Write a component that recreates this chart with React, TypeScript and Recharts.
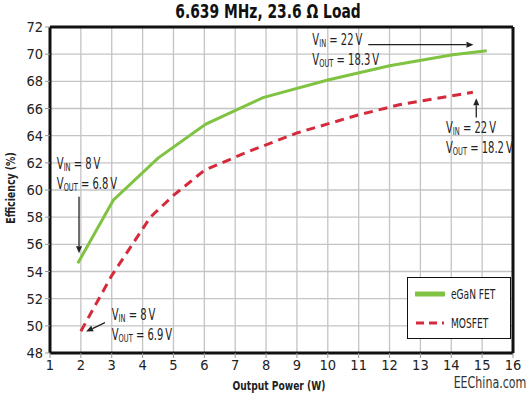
import {
  LineChart,
  Line,
  CartesianGrid,
  XAxis,
  YAxis,
  ReferenceLine,
  ReferenceDot,
  Legend,
} from "recharts";

// output power (W) and efficiency (%)
const gaNPower = [1.9, 3.05, 4.5, 6.05, 7.9, 10, 12, 14.05, 15.15];
const gaNEff = [54.6, 59.25, 62.35, 64.85, 66.8, 68.1, 69.15, 69.95, 70.25];
const mosPower = [2.0, 3.0, 4.25, 5.0, 6.0, 7.4, 9.0, 10.95, 12.35, 14.7];
const mosEff = [49.6, 53.7, 58.0, 59.6, 61.45, 62.8, 64.2, 65.5, 66.3, 67.2];

const xTicks = [1, 2, 3, 4, 5, 6, 7, 8, 9, 10, 11, 12, 13, 14, 15, 16];
const yTicks = [48, 50, 52, 54, 56, 58, 60, 62, 64, 66, 68, 70, 72];

const gaNData = gaNPower.map((p, i) => ({ p, eff: gaNEff[i] }));
const mosData = mosPower.map((p, i) => ({ p, eff: mosEff[i] }));

const FONT = "'DejaVu Sans', sans-serif";
const STRETCH = "condensed";
const GREEN = "#80c242";
const RED = "#d42a3c";

const series = [
  { name: "eGaN FET", color: GREEN, dash: undefined, width: 5 },
  { name: "MOSFET", color: RED, dash: "8 5", width: 3 },
];

// annotation anchors (data coords) and text
const notes = [
  { x: 1.22, y: 61.94, vin: "8", vout: "6.8" },
  { x: 3.0, y: 50.82, vin: "8", vout: "6.9" },
  { x: 9.5, y: 71.02, vin: "22", vout: "18.3" },
  { x: 13.83, y: 64.57, vin: "22", vout: "18.2" },
];

const arrows = [
  [{ x: 1.94, y: 59.5 }, { x: 1.94, y: 55.35 }],
  [{ x: 2.78, y: 50.23 }, { x: 2.17, y: 49.58 }],
  [{ x: 11.31, y: 70.7 }, { x: 14.72, y: 70.7 }],
  [{ x: 14.81, y: 65.33 }, { x: 14.81, y: 66.75 }],
];

const Arrow = (props: any) => {
  const { x1, y1, x2, y2 } = props;
  const a = Math.atan2(y2 - y1, x2 - x1);
  const len = 7;
  const hw = 3;
  const bx = x2 - len * Math.cos(a);
  const by = y2 - len * Math.sin(a);
  const px = -Math.sin(a) * hw;
  const py = Math.cos(a) * hw;
  return (
    <g>
      <line x1={x1} y1={y1} x2={bx} y2={by} stroke="#222" strokeWidth={1.3} />
      <polygon points={`${x2},${y2} ${bx + px},${by + py} ${bx - px},${by - py}`} fill="#222" />
    </g>
  );
};

const Note = ({ cx, cy, vin, vout }: any) => (
  <g
    fontFamily={FONT}
    fill="#222"
    style={{ fontStretch: STRETCH }}
    transform={`translate(${cx} ${cy}) scale(0.74 1)`}
  >
    <text x={0} y={5} fontSize={15}>
      V<tspan fontSize={10} dy={2}>IN</tspan>
      <tspan dy={-2}> = {vin}{"\u2009"}V</tspan>
    </text>
    <text x={0} y={25} fontSize={15}>
      V<tspan fontSize={10} dy={2}>OUT</tspan>
      <tspan dy={-2}> = {vout}{"\u2009"}V</tspan>
    </text>
  </g>
);

const LegendBox = () => (
  <div
    style={{
      width: 104,
      height: 62,
      boxSizing: "border-box",
      border: "1.5px solid #111",
      background: "#fff",
      position: "relative",
      fontFamily: FONT,
      fontStretch: STRETCH,
      fontSize: 14,
      color: "#222",
      whiteSpace: "nowrap",
    }}
  >
    {series.map((s, i) => (
      <div key={s.name} style={{ position: "absolute", left: 7, top: 6 + i * 29, height: 20, display: "flex", alignItems: "center" }}>
        <svg width={30} height={10}>
          <line x1={1} y1={5} x2={29} y2={5} stroke={s.color} strokeWidth={s.width} strokeDasharray={s.dash} strokeLinecap={s.dash ? "butt" : "round"} />
        </svg>
        <span style={{ marginLeft: 6, display: "inline-block", transform: "scaleX(0.72)", transformOrigin: "left center" }}>{s.name}</span>
      </div>
    ))}
  </div>
);

const tickStyle = { fill: "#222", fontSize: 14.5, fontFamily: FONT, fontStretch: STRETCH } as any;

export default function App() {
  return (
    <div style={{ position: "relative", width: 532, height: 397, background: "#fff", overflow: "hidden" }}>
      <style>{"body{margin:0}"}</style>
      <div
        style={{
          position: "absolute",
          left: 268,
          top: 11,
          transform: "translate(-50%, -50%) scaleX(0.77)",
          fontFamily: FONT,
          fontStretch: STRETCH,
          fontWeight: "bold",
          fontSize: 20,
          color: "#111",
          whiteSpace: "nowrap",
          lineHeight: 1,
        }}
      >
        6.639 MHz, 23.6 Ω Load
      </div>
      <LineChart width={532} height={397} margin={{ top: 27, right: 19, bottom: 14, left: 0 }}>
        <CartesianGrid stroke="#c4c4c4" strokeWidth={1.3} />
        <XAxis
          dataKey="p"
          type="number"
          domain={[1, 16]}
          ticks={xTicks}
          interval={0}
          height={30}
          axisLine={{ stroke: "#111", strokeWidth: 3 }}
          tickLine={{ stroke: "#999" }}
          tickSize={5}
          tickMargin={2}
          tick={tickStyle}
          allowDataOverflow
        />
        <YAxis
          type="number"
          domain={[48, 72]}
          ticks={yTicks}
          interval={0}
          width={50}
          axisLine={{ stroke: "#111", strokeWidth: 3 }}
          tickLine={{ stroke: "#999" }}
          tickSize={5}
          tickMargin={2}
          tick={tickStyle}
          allowDataOverflow
        />
        <ReferenceLine y={72} stroke="#111" strokeWidth={3} />
        <ReferenceLine x={16} stroke="#111" strokeWidth={3} />
        <Line
          data={gaNData}
          dataKey="eff"
          name="eGaN FET"
          type="linear"
          stroke={GREEN}
          strokeWidth={3}
          dot={false}
          isAnimationActive={false}
        />
        <Line
          data={mosData}
          dataKey="eff"
          name="MOSFET"
          type="linear"
          stroke={RED}
          strokeWidth={3}
          strokeDasharray="9 6"
          dot={false}
          isAnimationActive={false}
        />
        {arrows.map((seg, i) => (
          <ReferenceLine key={"a" + i} segment={seg} shape={<Arrow />} />
        ))}
        {notes.map((n, i) => (
          <ReferenceDot
            key={"n" + i}
            x={n.x}
            y={n.y}
            r={0}
            shape={(p: any) => <Note cx={p.cx} cy={p.cy} vin={n.vin} vout={n.vout} />}
          />
        ))}
        <Legend
          layout="vertical"
          align="center"
          verticalAlign="middle"
          wrapperStyle={{ left: 407, top: 277, width: 104, height: 62 }}
          content={() => <LegendBox />}
        />
      </LineChart>
      <div
        style={{
          position: "absolute",
          left: 10,
          top: 188,
          transform: "translate(-50%, -50%) rotate(-90deg) scaleX(0.8)",
          whiteSpace: "nowrap",
          fontFamily: FONT,
          fontStretch: STRETCH,
          fontWeight: "bold",
          fontSize: 13,
          color: "#222",
          lineHeight: 1,
        }}
      >
        Efficiency (%)
      </div>
      <div
        style={{
          position: "absolute",
          left: 279,
          top: 385,
          transform: "translate(-50%, -50%) scaleX(0.78)",
          whiteSpace: "nowrap",
          fontFamily: FONT,
          fontStretch: STRETCH,
          fontWeight: "bold",
          fontSize: 13,
          color: "#222",
          lineHeight: 1,
        }}
      >
        Output Power (W)
      </div>
      <div
        style={{
          position: "absolute",
          left: 490,
          top: 383,
          transform: "translate(-50%, -50%) scaleX(0.82)",
          whiteSpace: "nowrap",
          fontFamily: FONT,
          fontStretch: STRETCH,
          fontSize: 15,
          color: "#333",
          lineHeight: 1,
        }}
      >
        EEChina.com
      </div>
    </div>
  );
}
